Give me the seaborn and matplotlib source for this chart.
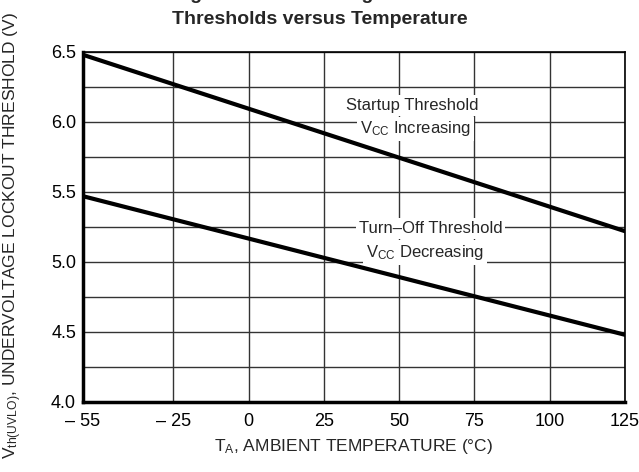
import matplotlib.pyplot as plt
import pandas as pd
import seaborn as sns

# -------------------------------------------------------
# Data
# -------------------------------------------------------

temperature = [-55, 125]
startup_threshold = [6.48, 5.22]
turnoff_threshold = [5.47, 4.48]

x_ticks = [-55, -25, 0, 25, 50, 75, 100, 125]
x_tick_labels = ["\u2013 55", "\u2013 25", "0", "25", "50", "75", "100", "125"]
y_ticks = [4.0, 4.5, 5.0, 5.5, 6.0, 6.5]
y_tick_labels = ["4.0", "4.5", "5.0", "5.5", "6.0", "6.5"]

sns.set_theme(style="white")
plt.rcParams["font.family"] = ["Liberation Sans", "DejaVu Sans"]
plt.rcParams["mathtext.fontset"] = "custom"
plt.rcParams["mathtext.rm"] = "Liberation Sans"
plt.rcParams["mathtext.it"] = "Liberation Sans"

df = pd.DataFrame({
    "T": temperature + temperature,
    "V": startup_threshold + turnoff_threshold,
    "series": ["Startup"] * 2 + ["Turn-Off"] * 2,
})

fig = plt.figure(figsize=(6.39, 4.72), dpi=100)
ax = fig.add_axes([83 / 639, 1 - 402 / 472, 542 / 639, 350 / 472])

sns.lineplot(
    data=df,
    x="T",
    y="V",
    units="series",
    estimator=None,
    color="black",
    linewidth=3,
    ax=ax,
    zorder=5
)

ax.set_xlim(-55, 125)
ax.set_ylim(4.0, 6.5)

ax.set_xticks([t for t in range(-25, 125, 25)], minor=True)
ax.set_yticks([4.25 + 0.25 * i for i in range(9)], minor=True)
ax.grid(True, which="both", color="#333333", linewidth=1.0)
ax.set_xticks(x_ticks)
ax.set_xticklabels(x_tick_labels)
ax.set_yticks(y_ticks)
ax.set_yticklabels(y_tick_labels)
ax.tick_params(axis="both", which="both", length=0, labelsize=13, colors="black")
ax.tick_params(axis="x", pad=8)
ax.tick_params(axis="y", pad=5)

for side in ["left", "bottom"]:
    ax.spines[side].set_linewidth(2.5)
for side in ["top", "right"]:
    ax.spines[side].set_linewidth(1.2)
for spine in ax.spines.values():
    spine.set_color("black")

ax.set_xlabel("T$_\\mathregular{A}$, AMBIENT TEMPERATURE (\u00b0C)", fontsize=12.5)
ax.xaxis.set_label_coords(0.5, -(446 - 402) / 350, transform=ax.transAxes)
ax.xaxis.label.set_va("center")
ax.set_ylabel("V$_\\mathregular{th(UVLO)}$, UNDERVOLTAGE LOCKOUT THRESHOLD (V)", fontsize=12.5)
ax.yaxis.label.set_va("center")
ax.yaxis.set_label_coords(13 / 639, 0.5, transform=fig.transFigure)

box = dict(facecolor="white", edgecolor="none", pad=2)
ax.text(54.5, 6.12, "Startup Threshold", ha="center", va="center", fontsize=12, bbox=box, zorder=4)
ax.text(55.5, 5.95, "V$_\\mathregular{CC}$ Increasing", ha="center", va="center", fontsize=12, bbox=box, zorder=4)
ax.text(60.5, 5.24, "Turn\u2013Off Threshold", ha="center", va="center", fontsize=12, bbox=box, zorder=4)
ax.text(58.5, 5.07, "V$_\\mathregular{CC}$ Decreasing", ha="center", va="center", fontsize=12, bbox=box, zorder=4)

# the first title line is cut by the top edge, as in the reference
fig.text(0.5, 1 + 1 / 472, "Figure 3. Undervoltage Lockout", ha="center", va="baseline",
         fontsize=14, fontweight="bold")
fig.text(0.5, 1 - 24 / 472, "Thresholds versus Temperature", ha="center", va="baseline",
         fontsize=14, fontweight="bold")

fig.savefig("out.png", dpi=100)
